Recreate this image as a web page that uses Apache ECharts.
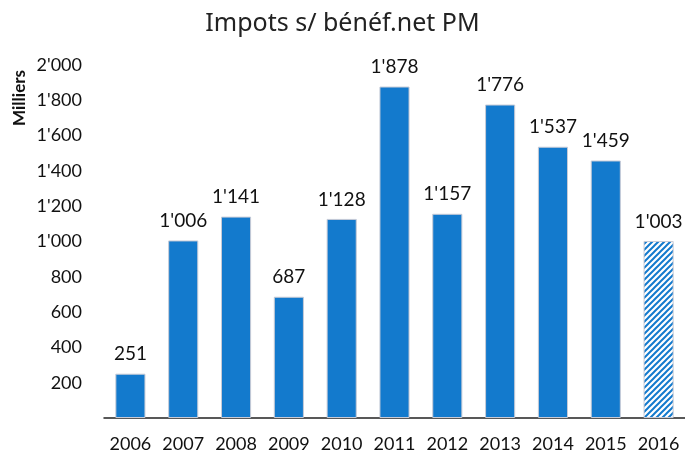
<!DOCTYPE html>
<html>
<head>
<meta charset="utf-8">
<script src="https://cdn.jsdelivr.net/npm/echarts@6/dist/echarts.min.js"></script>
<style>
  html, body { margin: 0; padding: 0; background: #fff; }
  #chart { width: 685px; height: 460px; }
</style>
</head>
<body>
<div id="chart"></div>
<script>
// Yearly figures, in thousands
const years = ['2006', '2007', '2008', '2009', '2010', '2011', '2012', '2013', '2014', '2015', '2016'];
const amounts = [251, 1006, 1141, 687, 1128, 1878, 1157, 1776, 1537, 1459, 1003];
// Years still estimated are drawn hatched
const estimated = ['2016'];

const BLUE = '#137ACD';

// Swiss-style thousands separator: 1'878
function fmt(v) {
  if (v >= 1000) {
    return Math.floor(v / 1000) + "'" + String(v % 1000).padStart(3, '0');
  }
  return String(v);
}

// Diagonal hatch pattern for estimated bars
function hatch() {
  const s = 6;
  const c = document.createElement('canvas');
  c.width = s; c.height = s;
  const g = c.getContext('2d');
  g.fillStyle = '#fff';
  g.fillRect(0, 0, s, s);
  g.strokeStyle = BLUE;
  g.lineWidth = 2;
  g.beginPath();
  g.moveTo(0, s); g.lineTo(s, 0);
  g.moveTo(-1, 1); g.lineTo(1, -1);
  g.moveTo(s - 1, s + 1); g.lineTo(s + 1, s - 1);
  g.stroke();
  return c;
}
const hatchImg = hatch();

const barData = years.map((y, i) => {
  const item = { value: amounts[i] };
  if (estimated.includes(y)) {
    item.itemStyle = {
      color: { image: hatchImg, repeat: 'repeat' },
      borderColor: '#c8cbd6',
      borderWidth: 1
    };
  }
  return item;
});

const chart = echarts.init(document.getElementById('chart'), null, { renderer: 'canvas' });
chart.setOption({
  animation: false,
  backgroundColor: '#fff',
  title: {
    text: 'Impots s/ bénéf.net PM',
    left: 'center',
    top: 6,
    textStyle: { fontFamily: 'Noto Sans', fontWeight: 'normal', fontSize: 25, color: '#222' }
  },
  graphic: [{
    type: 'text',
    left: 11,
    top: 70,
    rotation: Math.PI / 2,
    style: {
      text: 'Milliers',
      fontFamily: 'Lato',
      fontWeight: 'bold',
      fontSize: 17,
      fill: '#111'
    }
  }],
  grid: { left: 104, right: 0, top: 65, bottom: 42 },
  xAxis: {
    type: 'category',
    data: years,
    axisLine: { lineStyle: { color: '#222', width: 1.5 } },
    axisTick: { show: false },
    axisLabel: { interval: 0, fontFamily: 'Lato', fontSize: 18, color: '#111', margin: 17 }
  },
  yAxis: {
    type: 'value',
    min: 0,
    max: 2000,
    interval: 200,
    axisLine: { show: false },
    axisTick: { show: false },
    splitLine: { show: false },
    axisLabel: {
      fontFamily: 'Lato', fontSize: 18, color: '#111', margin: 22,
      formatter: v => (v === 0 ? '' : fmt(v))
    }
  },
  series: [{
    type: 'bar',
    data: barData,
    barWidth: '57%',
    itemStyle: { color: BLUE, borderColor: '#c8cbd6', borderWidth: 1 },
    label: {
      show: true,
      position: 'top',
      distance: 10,
      fontFamily: 'Lato',
      fontSize: 19,
      color: '#111',
      formatter: p => fmt(p.value)
    }
  }]
});
</script>
</body>
</html>
